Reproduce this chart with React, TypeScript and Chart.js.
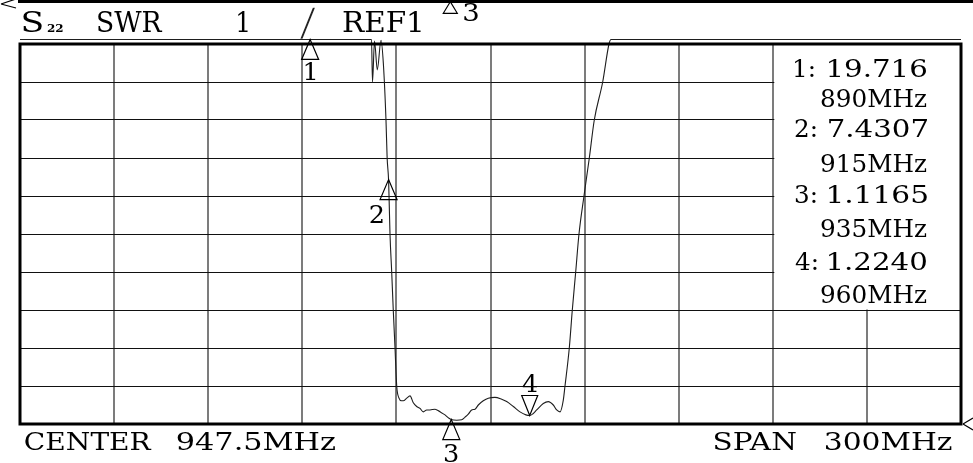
import React, { useEffect, useRef } from "react";
import { Chart, registerables } from "chart.js";

Chart.register(...registerables);

// ---- instrument settings ----
const CENTER_MHZ = 947.5;
const SPAN_MHZ = 300;
const REF_SWR = 1;
const SWR_PER_DIV = 1;
const X_DIVS = 10;
const Y_DIVS = 10;
const OVER_RANGE_SWR = 11.12; // level at which the analyzer draws off-scale trace

const START_MHZ = CENTER_MHZ - SPAN_MHZ / 2;
const STOP_MHZ = CENTER_MHZ + SPAN_MHZ / 2;
const TOP_SWR = REF_SWR + Y_DIVS * SWR_PER_DIV;

// ---- trace (as displayed) ----
const traceFreqMHz = [
  797.5, 909.56, 909.88, 910.52, 911.41, 912.59, 913.33, 914.18, 914.55, 915.0,
  915.15, 915.46, 916.0, 916.5, 917.06, 917.6, 918.33, 919.12, 919.7, 920.78,
  921.84, 922.89, 923.97, 925.02, 926.08, 927.16, 928.21, 929.81, 931.4, 933.0,
  934.27, 935.0, 936.72, 938.32, 939.37, 940.42, 941.5, 942.56, 943.61, 945.2,
  946.8, 948.93, 951.07, 952.66, 954.77, 956.9, 958.8, 960.0, 961.05, 962.23,
  964.33, 965.93, 967.52, 968.6, 969.66, 970.71, 971.25, 972.62, 973.58, 974.66,
  975.71, 977.3, 979.0, 980.59, 983.27, 985.28, 985.92, 1097.5,
];
const traceSwr = [
  11.12, 11.12, 10.0, 11.08, 10.32, 11.1, 10.5, 9.0, 8.0, 7.4307,
  7.0, 6.0, 5.0, 4.0, 3.0, 2.0, 1.68, 1.61, 1.61, 1.68,
  1.74, 1.56, 1.46, 1.41, 1.32, 1.37, 1.37, 1.39, 1.32, 1.24,
  1.15, 1.1165, 1.1, 1.11, 1.18, 1.26, 1.37, 1.39, 1.5, 1.61,
  1.68, 1.7, 1.65, 1.59, 1.46, 1.32, 1.24, 1.224, 1.27, 1.37,
  1.54, 1.59, 1.5, 1.37, 1.32, 1.63, 2.0, 3.0, 4.0, 5.0,
  6.0, 7.0, 8.0, 9.0, 10.0, 11.0, 11.12, 11.12,
];

// ---- markers ----
const markerIds = ["1", "2", "3", "4"];
const markerFreqMHz = [890, 915, 935, 960];
const markerSwr = [19.716, 7.4307, 1.1165, 1.224];
const deltaRefMarkerIndex = 2; // "Δ3"

// ---- annotation texts ----
const paramName = "S";
const paramSub = "22";
const formatName = "SWR";
const scaleText = "1";
const separator = "/";
const refText = `REF${REF_SWR}`;
const centerLabel = "CENTER";
const spanLabel = "SPAN";

// ---- marker symbol layout (style only) ----
const markerLayout = [
  { dir: "up", labelDx: 0, labelDy: 40.5 },
  { dir: "up", labelDx: -12, labelDy: 43 },
  { dir: "up", labelDx: 0, labelDy: 42.5 },
  { dir: "down", labelDx: 0, labelDy: -23.5 },
];
const TABLE_FIRST_COL = 8;
const TABLE_ROWS = 7;
const tableBaselines = [76.7, 106.7, 136.7, 171.7, 203.3, 236.7, 270, 303.3];

const SERIF = '"DejaVu Serif", serif';

type FitOpts = {
  left?: number;
  right?: number;
  center?: number;
  baseline: number;
  cap: number;
  width?: number;
  sx?: number;
  weight?: string;
  family?: string;
};

// draws text whose ink has the given cap height and (optionally) ink width
function fitText(ctx: CanvasRenderingContext2D, text: string, o: FitOpts) {
  const fam = o.family ?? SERIF;
  const w = o.weight ?? "normal";
  ctx.font = `${w} 100px ${fam}`;
  const capRatio = ctx.measureText("H").actualBoundingBoxAscent / 100 || 0.73;
  const size = o.cap / capRatio;
  ctx.font = `${w} ${size}px ${fam}`;
  ctx.textAlign = "left";
  ctx.textBaseline = "alphabetic";
  const m = ctx.measureText(text);
  const inkL = -m.actualBoundingBoxLeft;
  const inkW = m.actualBoundingBoxRight - inkL;
  const sx = o.width ? o.width / inkW : o.sx ?? 1;
  const wScaled = inkW * sx;
  const left =
    o.left !== undefined ? o.left : o.right !== undefined ? o.right - wScaled : (o.center as number) - wScaled / 2;
  ctx.save();
  ctx.translate(left - inkL * sx, o.baseline);
  ctx.scale(sx, 1);
  ctx.fillText(text, 0, 0);
  ctx.restore();
}

// fits a glyph's ink into a box, then thins it with a white outline
function fitBox(ctx: CanvasRenderingContext2D, text: string, l: number, t: number, r: number, b: number, font: string) {
  ctx.font = font;
  ctx.textAlign = "left";
  ctx.textBaseline = "alphabetic";
  const m = ctx.measureText(text);
  const inkL = -m.actualBoundingBoxLeft;
  const inkW = m.actualBoundingBoxRight - inkL;
  const inkH = m.actualBoundingBoxAscent + m.actualBoundingBoxDescent;
  const sx = (r - l) / inkW;
  const sy = (b - t) / inkH;
  ctx.save();
  ctx.translate(l - inkL * sx, t + m.actualBoundingBoxAscent * sy);
  ctx.scale(sx, sy);
  ctx.fillText(text, 0, 0);
  ctx.strokeStyle = "#fff";
  ctx.lineWidth = 1.6;
  ctx.strokeText(text, 0, 0);
  ctx.restore();
}

function triangle(ctx: CanvasRenderingContext2D, ax: number, ay: number, halfW: number, h: number) {
  ctx.beginPath();
  ctx.moveTo(ax, ay);
  ctx.lineTo(ax - halfW, ay + h);
  ctx.lineTo(ax + halfW, ay + h);
  ctx.closePath();
  ctx.stroke();
}

const screenPlugin = {
  id: "analyzerScreen",
  beforeDatasetsDraw(chart: any) {
    const { ctx, chartArea: a, scales } = chart;
    const x = scales.x;
    const y = scales.y;
    const boxLeft = x.getPixelForValue(START_MHZ + (TABLE_FIRST_COL * SPAN_MHZ) / X_DIVS);
    const boxBottom = y.getPixelForValue(TOP_SWR - TABLE_ROWS * SWR_PER_DIV);
    ctx.save();
    ctx.fillStyle = "#ffffff";
    ctx.fillRect(boxLeft + 1.5, a.top, a.right - boxLeft - 1.5, boxBottom - 0.5 - a.top);
    // header separator glyph (drawn under the trace)
    ctx.fillStyle = "#222";
    fitBox(ctx, separator, 299, 7, 317, 40, '40px "DejaVu Sans", sans-serif');
    ctx.restore();
  },
  afterDraw(chart: any) {
    const { ctx, chartArea: a, scales } = chart;
    const x = scales.x;
    const y = scales.y;
    ctx.save();
    // frame
    ctx.strokeStyle = "#000";
    ctx.lineWidth = 3;
    ctx.strokeRect(a.left, a.top, a.right - a.left, a.bottom - a.top);
    // top bar
    ctx.fillStyle = "#000";
    ctx.fillRect(18, 0, chart.width - 18, 3);

    ctx.lineWidth = 1.2;
    ctx.strokeStyle = "#000";
    // reference position marker (right, at REF level)
    const refY = y.getPixelForValue(REF_SWR);
    ctx.beginPath();
    ctx.moveTo(a.right + 2, refY);
    ctx.lineTo(a.right + 12, refY - 6);
    ctx.moveTo(a.right + 2, refY);
    ctx.lineTo(a.right + 12, refY + 6);
    ctx.stroke();
    // small top-left symbol
    ctx.beginPath();
    ctx.moveTo(1, 4);
    ctx.lineTo(16, -1);
    ctx.moveTo(1, 4);
    ctx.lineTo(16, 8);
    ctx.stroke();

    // markers on the trace
    ctx.fillStyle = "#000";
    markerFreqMHz.forEach((f, i) => {
      const px = x.getPixelForValue(f);
      const py = y.getPixelForValue(Math.min(markerSwr[i], OVER_RANGE_SWR));
      const lay = markerLayout[i];
      ctx.lineWidth = 1.2;
      if (lay.dir === "up") triangle(ctx, px, py, 8.5, 20);
      else triangle(ctx, px, py, 8, -20);
      fitText(ctx, markerIds[i], { center: px + lay.labelDx, baseline: py + lay.labelDy, cap: 17, sx: 1.1 });
    });

    // delta reference marker at the top
    const dx = x.getPixelForValue(markerFreqMHz[deltaRefMarkerIndex]) - 1;
    triangle(ctx, dx, 1.7, 7, 11.6);
    fitText(ctx, markerIds[deltaRefMarkerIndex], { left: dx + 13, baseline: 20.7, cap: 17.4, width: 15 });

    // header
    fitText(ctx, paramName, { left: 23, baseline: 31.7, cap: 20, width: 19 });
    fitText(ctx, paramSub, { left: 47, baseline: 31.7, cap: 8, width: 16, weight: "bold" });
    fitText(ctx, formatName, { left: 98, baseline: 31.7, cap: 20, width: 65 });
    fitText(ctx, scaleText, { left: 238, baseline: 31.7, cap: 20, width: 10 });
    fitText(ctx, refText, { left: 343, baseline: 31.7, cap: 21, width: 78.5 });

    // marker table
    markerFreqMHz.forEach((f, i) => {
      fitText(ctx, `${markerIds[i]}:`, { left: 795, baseline: tableBaselines[2 * i], cap: 18, sx: 1.0 });
      fitText(ctx, markerSwr[i].toPrecision(5), { right: 927, baseline: tableBaselines[2 * i], cap: 18, width: 98 });
      fitText(ctx, `${f}MHz`, { right: 927, baseline: tableBaselines[2 * i + 1], cap: 18, width: 106 });
    });

    // footer
    fitText(ctx, centerLabel, { left: 25, baseline: 449.5, cap: 17.8, width: 126.5 });
    fitText(ctx, `${CENTER_MHZ}MHz`, { left: 177, baseline: 449.5, cap: 17.8, width: 158 });
    fitText(ctx, spanLabel, { left: 715, baseline: 449.5, cap: 17.8, width: 81.5 });
    fitText(ctx, `${SPAN_MHZ}MHz`, { left: 825, baseline: 449.5, cap: 17.8, width: 126.5 });
    ctx.restore();
  },
};

export default function App() {
  const ref = useRef<HTMLCanvasElement>(null);
  useEffect(() => {
    const canvas = ref.current!;
    const chart = new Chart(canvas, {
      type: "line",
      data: {
        datasets: [
          {
            data: traceFreqMHz.map((f, i) => ({ x: f, y: traceSwr[i] })),
            borderColor: "#1e1e1e",
            borderWidth: 1.1,
            pointRadius: 0,
            cubicInterpolationMode: "monotone",
            clip: { left: 0, top: 8, right: 0, bottom: 0 },
          } as any,
        ],
      },
      options: {
        animation: false,
        responsive: false,
        devicePixelRatio: 1,
        events: [],
        layout: { padding: { left: 20, top: 44, right: 12, bottom: 39 } },
        plugins: { legend: { display: false }, tooltip: { enabled: false }, title: { display: false } },
        scales: {
          x: {
            type: "linear",
            min: START_MHZ,
            max: STOP_MHZ,
            afterBuildTicks: (s: any) => {
              s.ticks = Array.from({ length: X_DIVS + 1 }, (_, i) => ({ value: START_MHZ + (i * SPAN_MHZ) / X_DIVS }));
            },
            ticks: { display: false },
            grid: { color: "#7c7c7c", lineWidth: 2, drawTicks: false },
            border: { display: false },
          },
          y: {
            type: "linear",
            min: REF_SWR,
            max: TOP_SWR,
            afterBuildTicks: (s: any) => {
              s.ticks = Array.from({ length: Y_DIVS + 1 }, (_, i) => ({ value: REF_SWR + i * SWR_PER_DIV }));
            },
            ticks: { display: false },
            grid: { color: "#111", lineWidth: 1, drawTicks: false },
            border: { display: false },
          },
        },
      } as any,
      plugins: [screenPlugin],
    });
    return () => chart.destroy();
  }, []);
  return (
    <div style={{ position: "absolute", left: 0, top: 0, width: 973, height: 463, background: "#fff" }}>
      <canvas ref={ref} width={973} height={463} style={{ display: "block" }} />
    </div>
  );
}
